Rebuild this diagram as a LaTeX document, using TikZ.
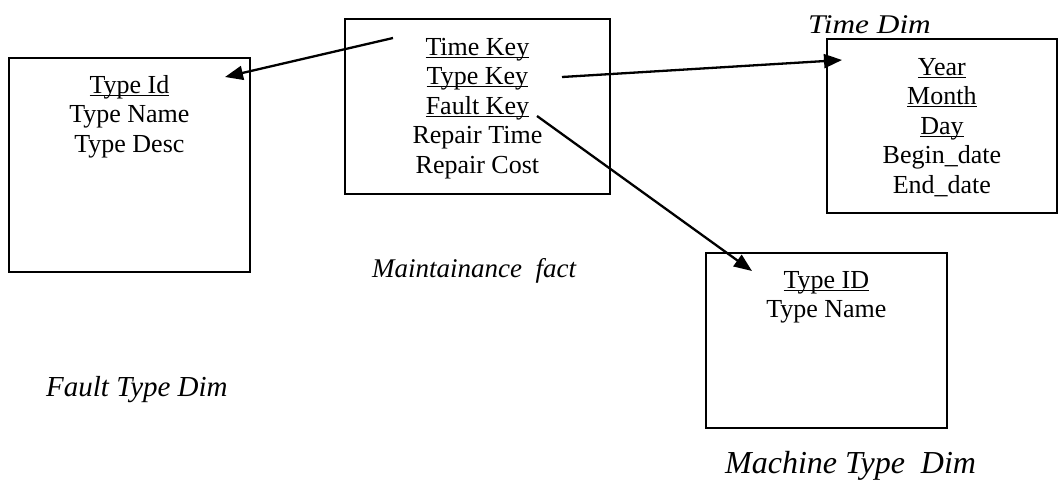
\documentclass[tikz,border=0pt]{standalone}
\usepackage{fontspec}
\setmainfont{Liberation Serif}
\usetikzlibrary{arrows.meta}

% key field: underline drawn just under the baseline, through the descenders
\newcommand\ukey[1]{\leavevmode\setbox0\hbox{#1}\rlap{\rule[-2.6pt]{\wd0}{1.3pt}}\box0}

\tikzset{
  table/.style={draw, line width=1.8pt, rectangle, inner sep=0pt, anchor=north west},
  fields/.style={align=center, inner sep=0pt, anchor=north,
                 font=\fontsize{26}{29.5}\selectfont},
  caption/.style={inner sep=0pt, anchor=base west},
  link/.style={line width=2.3pt, -{Triangle[length=18pt,width=14pt]}}
}

\begin{document}
\begin{tikzpicture}[x=1pt, y=-1pt]
  \useasboundingbox (0,0) rectangle (1060,480);

  % tables
  \node[table, minimum width=241pt, minimum height=214pt] (fault) at (8,57) {};
  \node[table, minimum width=265pt, minimum height=175pt] (fact) at (344,18) {};
  \node[table, minimum width=230pt, minimum height=174pt] (time) at (826,38) {};
  \node[table, minimum width=241pt, minimum height=175pt] (machine) at (705,252) {};

  % field lists
  \node[fields] (faultf) at ([yshift=-15.35pt]fault.north)
    {\strut\ukey{Type Id}\\Type Name\\Type Desc};
  \node[fields] (factf) at ([yshift=-16.35pt]fact.north)
    {\strut\ukey{Time Key}\\\ukey{Type Key}\\\ukey{Fault Key}\\Repair Time\\Repair Cost};
  \node[fields] (timef) at ([yshift=-16.35pt]time.north)
    {\strut\ukey{Year}\\\ukey{Month}\\\ukey{Day}\\Begin\_date\\End\_date};
  \node[fields] (machinef) at ([yshift=-15.35pt]machine.north)
    {\strut\ukey{Type ID}\\Type Name};

  % table captions
  \node[caption, font=\fontsize{27}{30}\selectfont\itshape] (timecap) at (808,33)
    {\scalebox{1.16}[1]{Time Dim}};
  \node[caption, font=\fontsize{27}{30}\selectfont\itshape] (factcap) at (372,277)
    {Maintainance\ \ fact};
  \node[caption, font=\fontsize{29}{32}\selectfont\itshape] (faultcap) at (46,396)
    {Fault Type Dim};
  \node[caption, font=\fontsize{32}{36}\selectfont\itshape] (machinecap) at (725,473)
    {Machine Type\ \ Dim};

  % key references
  \coordinate (tkey) at (393,38);
  \coordinate (ykey) at (562,77);
  \coordinate (fkey) at (537,116);
  \coordinate (faultin) at (225,77);
  \coordinate (timein) at (842,60);
  \coordinate (machinein) at (752,271);

  \draw[link] (tkey) -- (faultin);
  \draw[link] (ykey) -- (timein);
  \draw[link] (fkey) -- (machinein);
\end{tikzpicture}
\end{document}
